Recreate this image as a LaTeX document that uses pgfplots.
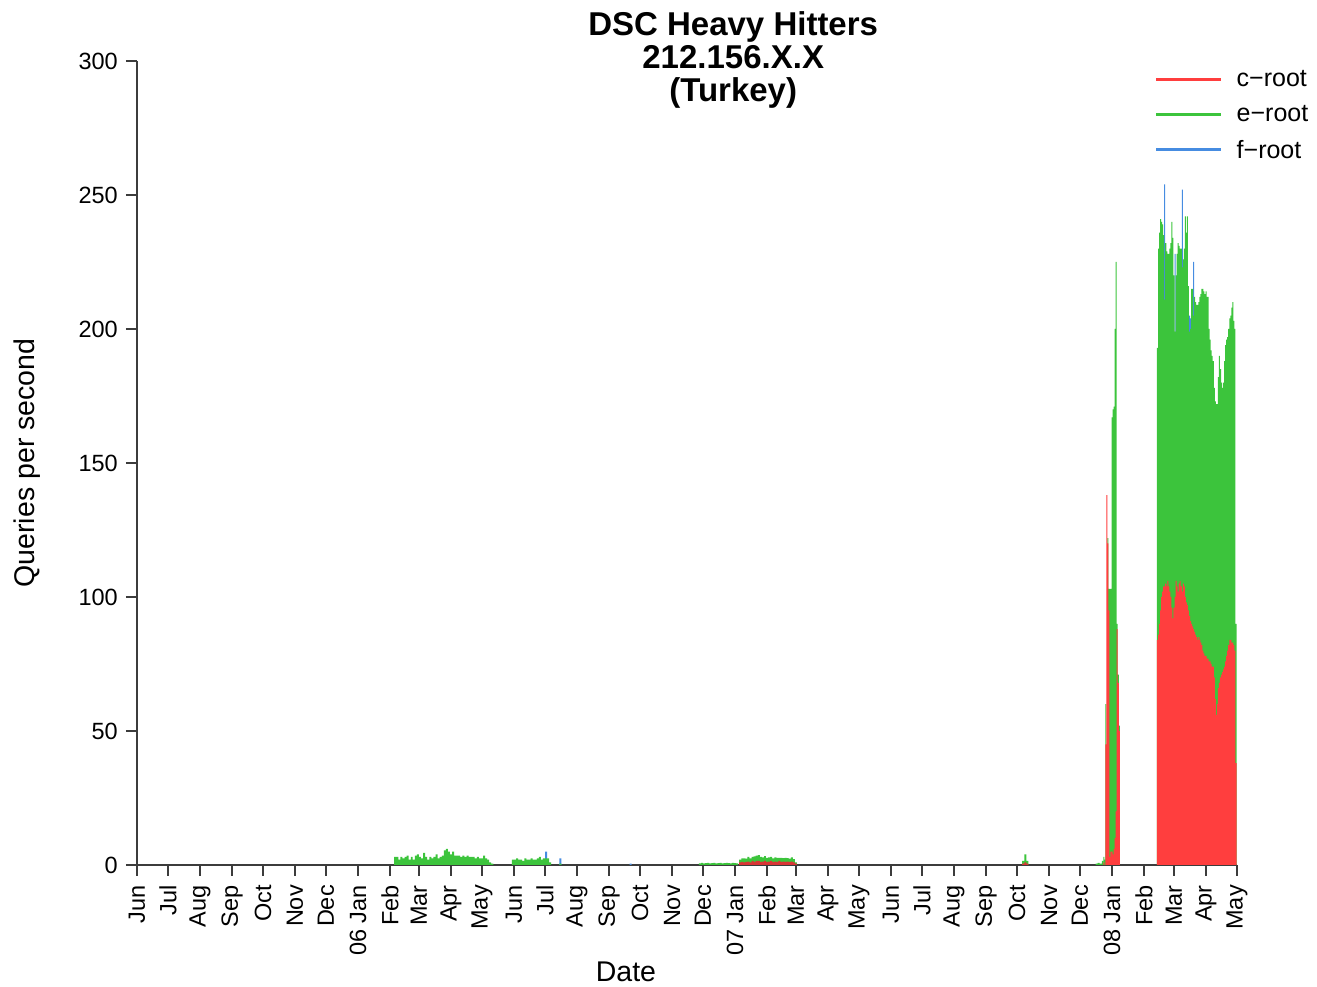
\documentclass[border=0pt]{standalone}
\usepackage{pgfplots}
\pgfplotsset{compat=1.18}
\usepackage{pgfplotstable}
\usepackage{fontspec}
\setmainfont{Liberation Sans}
\definecolor{cred}{RGB}{255,62,62}
\definecolor{cgreen}{RGB}{60,196,60}
\definecolor{cblue}{RGB}{70,140,225}
\definecolor{axgray}{RGB}{60,60,60}

% x = days since 1 Jun 2005; r = c-root top, g = c+e top, t = c+e+f top (nan = nothing drawn)
% low-traffic periods, one row per two days
\pgfplotstableread{
x r g t
250 nan 3 nan
252 nan 3 nan
254 nan 2 nan
256 nan 3 nan
258 nan 2.5 nan
260 nan 3 nan
262 nan 3.5 nan
264 nan 2 nan
266 nan 3 nan
268 nan 2 nan
270 nan 3.5 nan
272 nan 4 nan
274 nan 3 nan
276 nan 2.5 nan
278 nan 4.5 nan
280 nan 3 nan
282 nan 2 nan
284 nan 3 nan
286 nan 2.5 nan
288 nan 3 nan
290 nan 4 nan
292 nan 2.5 nan
294 nan 3 nan
296 nan 3.5 nan
298 nan 5.5 nan
300 nan 6 nan
302 nan 5 nan
304 nan 4 nan
306 nan 5 nan
308 nan 3.5 nan
310 nan 3.5 nan
312 nan 3.5 nan
314 nan 3 nan
316 nan 3.5 nan
318 nan 3 nan
320 nan 3.5 nan
322 nan 3 nan
324 nan 3 nan
326 nan 3 nan
328 nan 2.5 nan
330 nan 3 nan
332 nan 2.5 nan
334 nan 2.5 nan
336 nan 3.5 nan
338 nan 2.5 nan
340 nan 2 nan
342 nan 1 nan
344 nan 0.5 nan
364 nan 2 nan
366 nan 2 nan
368 nan 2.5 nan
370 nan 2 nan
372 nan 2 nan
374 nan 1.5 nan
376 nan 2.5 nan
378 nan 2 nan
380 nan 2 nan
382 nan 2.5 nan
384 nan 2 nan
386 nan 2 nan
388 nan 2.5 nan
390 nan 3 nan
392 nan 2 nan
394 nan 2.5 nan
396 nan 2.5 5
398 nan 2.5 nan
400 nan 1 nan
410 nan 0.5 2.5
478 nan nan 0.5
545 nan 0.6 nan
547 nan 0.8 nan
549 nan 0.6 nan
551 nan 0.7 nan
553 nan 0.8 nan
555 nan 0.6 nan
557 nan 0.7 nan
559 nan 0.8 nan
561 nan 0.6 nan
563 nan 0.7 nan
565 nan 0.8 nan
567 nan 0.6 nan
569 nan 0.7 nan
571 nan 0.8 nan
573 nan 0.7 nan
575 nan 0.6 nan
577 nan 0.8 nan
579 nan 0.7 nan
581 nan 0.6 nan
584 1 2 nan
586 1.2 2.5 nan
588 1 2.5 nan
590 1.2 2.4 nan
592 1.3 3 nan
594 1 2.5 nan
596 1.5 3 nan
598 1.2 3.2 nan
600 1.5 3.5 nan
602 1.5 3.7 nan
604 1.2 3 nan
606 1.3 2.8 nan
608 1.5 3.3 nan
610 1.2 2.7 nan
612 1.3 2.8 nan
614 1.5 3 nan
616 1.2 2.5 nan
618 1.3 2.8 nan
620 1.2 2.7 nan
622 1.5 2.7 nan
624 1.2 2.7 nan
626 1.3 2.6 nan
628 1.2 2.7 nan
630 1.3 2.6 nan
632 1.2 2.4 nan
634 1.3 2.8 nan
636 1 2.2 nan
638 0.5 1 nan
858 0.5 1.5 nan
860 1 4 nan
862 0.5 1.5 nan
929 nan 0.5 nan
931 nan 0.8 nan
933 nan 0.5 nan
935 nan 1.5 nan
}\lowdata

% busy periods, one row per day
\pgfplotstableread{
x r g t
936 1 3 nan
937 nan 2 nan
938 45 60 nan
939 138 nan nan
940 120 122 nan
941 95 103 nan
942 3 103 nan
943 5 103 nan
944 5 167 nan
945 4 170 nan
946 6 171 nan
947 10 200 nan
948 20 225 nan
949 88 90 nan
950 68 71 nan
951 50 52 nan
988 84 193 nan
989 86 230 nan
990 90 236 nan
991 95 241 nan
992 100 240 nan
993 102 239 nan
994 104 235 nan
995 104 211 254
996 105 232 nan
997 104 229 nan
998 106 228 nan
999 104 228 nan
1000 102 230 nan
1001 100 232 nan
1002 96 240 nan
1003 92 234 nan
1004 96 220 nan
1005 100 199 228
1006 106 220 nan
1007 104 228 nan
1008 102 232 nan
1009 105 231 nan
1010 106 230 nan
1011 104 230 nan
1012 102 223 252
1013 105 226 nan
1014 104 230 nan
1015 100 242 nan
1016 98 236 nan
1017 97 242 nan
1018 95 216 nan
1019 93 199 205
1020 91 200 204
1021 90 215 nan
1022 89 215 nan
1023 88 205 225
1024 87 212 nan
1025 86 210 nan
1026 85 209 nan
1027 84 209 nan
1028 85 210 nan
1029 84 212 nan
1030 83 213 nan
1031 82 215 nan
1032 80 215 nan
1033 79 214 nan
1034 78 213 nan
1035 78 214 nan
1036 77 212 nan
1037 77 212 nan
1038 76 200 nan
1039 76 196 nan
1040 75 192 nan
1041 74 190 nan
1042 74 188 nan
1043 70 178 nan
1044 62 173 nan
1045 56 172 nan
1046 60 172 nan
1047 66 182 nan
1048 68 190 nan
1049 70 185 nan
1050 71 180 nan
1051 72 178 nan
1052 73 180 nan
1053 74 188 nan
1054 76 194 nan
1055 78 196 nan
1056 80 197 nan
1057 82 200 nan
1058 84 204 nan
1059 84 205 nan
1060 83 208 nan
1061 83 210 nan
1062 82 203 nan
1063 80 200 nan
1064 38 90 nan
}\data

\begin{document}
\begin{tikzpicture}
\useasboundingbox (-137pt,-122pt) rectangle (1180pt,865pt);
\begin{axis}[
  at={(0pt,0pt)}, anchor=south west,
  scale only axis, width=1100pt, height=804pt,
  xmin=0, xmax=1065, ymin=0, ymax=300,
  enlargelimits=false,
  axis x line*=bottom, axis y line*=left,
  axis line style={-, line width=1.3pt, axgray},
  every outer x axis line/.append style={-},
  every outer y axis line/.append style={-},
  ybar, bar width=1,
  unbounded coords=discard,
  xtick={0,30,61,92,122,153,183,214,245,273,304,334,365,395,426,457,487,518,548,579,610,638,669,699,730,760,791,822,852,883,913,944,975,1004,1035,1065},
  xticklabels={Jun,Jul,Aug,Sep,Oct,Nov,Dec,06 Jan,Feb,Mar,Apr,May,Jun,Jul,Aug,Sep,Oct,Nov,Dec,07 Jan,Feb,Mar,Apr,May,Jun,Jul,Aug,Sep,Oct,Nov,Dec,08 Jan,Feb,Mar,Apr,May},
  ytick={0,50,100,150,200,250,300},
  tick align=outside, major tick length=11pt,
  tick style={line width=1.3pt, axgray},
  /pgf/number format/assume math mode=true,
  x tick label style={rotate=90, anchor=east, inner sep=0pt, xshift=-9pt, font=\fontsize{23.5}{28}\selectfont},
  y tick label style={anchor=east, inner sep=0pt, xshift=-8pt, font=\fontsize{23.5}{28}\selectfont},
  title={DSC Heavy Hitters\\212.156.X.X\\(Turkey)},
  title style={at={(0.542,1.0547)}, anchor=north, align=center, inner sep=0pt, font=\bfseries\fontsize{33}{33}\selectfont},
  ylabel={Queries per second},
  ylabel style={at={(0,0.5)}, anchor=center, yshift=110pt, font=\fontsize{28.5}{34}\selectfont},
  xlabel={Date},
  xlabel style={at={(0.4445,0)}, anchor=center, yshift=-107pt, font=\fontsize{28.5}{34}\selectfont},
  legend style={at={(0.925,0.9905)}, anchor=north west, draw=none, fill=none, font=\fontsize{25}{30}\selectfont, row sep=13pt, inner sep=0pt, /tikz/every odd column/.append style={column sep=12pt}},
  legend cell align=left,
]
\addplot[fill=cblue, draw=none, bar shift=0, bar width=1.9, forget plot] table[x=x, y=t] {\lowdata};
\addplot[fill=cgreen, draw=none, bar shift=0, bar width=1.9, forget plot] table[x=x, y=g] {\lowdata};
\addplot[fill=cred!85!black, draw=none, bar shift=0, bar width=1.9, forget plot] table[x=x, y=r] {\lowdata};
\addplot[fill=cblue, draw=none, bar shift=0, forget plot] table[x=x, y=t] {\data};
\addplot[fill=cgreen, draw=none, bar shift=0, forget plot] table[x=x, y=g] {\data};
\addplot[fill=cred, draw=none, bar shift=0, forget plot] table[x=x, y=r] {\data};
\addlegendimage{legend image code/.code={\draw[cred, line width=3pt] (0pt,0pt) -- (65pt,0pt);}}
\addlegendentry{c−root}
\addlegendimage{legend image code/.code={\draw[cgreen, line width=3pt] (0pt,0pt) -- (65pt,0pt);}}
\addlegendentry{e−root}
\addlegendimage{legend image code/.code={\draw[cblue, line width=3pt] (0pt,0pt) -- (65pt,0pt);}}
\addlegendentry{f−root}
\end{axis}
\end{tikzpicture}
\end{document}
